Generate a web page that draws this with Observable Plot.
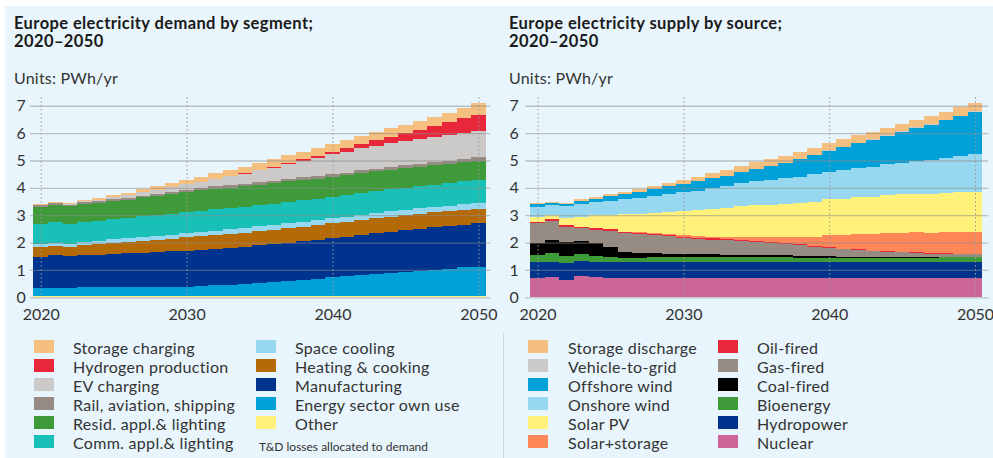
<!DOCTYPE html>
<html><head><meta charset="utf-8">
<script src="https://cdn.jsdelivr.net/npm/d3@7"></script>
<script src="https://cdn.jsdelivr.net/npm/@observablehq/plot@0.6"></script>
<style>
body{margin:0;width:993px;height:458px;overflow:hidden;background:#fff;font-family:Lato,sans-serif;color:#333;position:relative;}
#bg{position:absolute;left:5px;top:6px;width:988px;height:452px;background:#e8f5fc;}
.abs{position:absolute;}
.title{font-weight:700;font-size:16.5px;letter-spacing:0.4px;line-height:18.4px;color:#1a1a1a;white-space:nowrap;}
.units{font-size:16px;letter-spacing:0.2px;line-height:18px;color:#333;white-space:nowrap;}
.lg{position:absolute;font-size:16px;letter-spacing:0.3px;line-height:19px;color:#333;white-space:nowrap;}
.sw{position:absolute;width:20px;height:13px;}
.note{font-size:12px;color:#333;white-space:nowrap;}
#divider{position:absolute;left:503px;top:333px;width:1px;height:125px;background:#cfd6da;}
</style>
</head><body>
<div id="bg"></div>
<div id="root"></div>
<script>
// ---- categories ----
const years = [2020,2021,2022,2023,2024,2025,2026,2027,2028,2029,2030,2031,2032,2033,2034,2035,2036,2037,2038,2039,2040,2041,2042,2043,2044,2045,2046,2047,2048,2049,2050];
const xTicks = [2020, 2030, 2040, 2050];
const yTicks = [0, 1, 2, 3, 4, 5, 6, 7];

// ---- demand by segment (PWh/yr), legend order (top of stack first) ----
const demandSeries = ["Storage charging","Hydrogen production","EV charging","Rail, aviation, shipping","Resid. appl.& lighting","Comm. appl.& lighting","Space cooling","Heating & cooking","Manufacturing","Energy sector own use","Other"];
const demandColors = ["#f5c07f","#e8283a","#cbcac8","#978c83","#3f9a3a","#19c0b8","#97d7ef","#b46a06","#00338e","#00a0d8","#fff17a"];
const storageCharging = [0.03,0.03,0.04,0.04,0.06,0.08,0.09,0.11,0.13,0.14,0.16,0.18,0.20,0.21,0.23,0.25,0.26,0.27,0.28,0.29,0.30,0.31,0.31,0.31,0.31,0.31,0.32,0.33,0.35,0.38,0.41];
const hydrogenProduction = [0,0,0,0,0,0,0,0,0,0,0,0.01,0.01,0.02,0.02,0.03,0.04,0.05,0.06,0.08,0.10,0.13,0.16,0.20,0.24,0.28,0.33,0.39,0.46,0.54,0.62];
const evCharging = [0.01,0.01,0.02,0.03,0.05,0.07,0.09,0.12,0.14,0.17,0.20,0.24,0.28,0.33,0.38,0.44,0.50,0.55,0.60,0.66,0.72,0.76,0.80,0.84,0.87,0.90,0.92,0.93,0.94,0.95,0.95];
const railAviationShipping = [0.07,0.07,0.07,0.07,0.07,0.07,0.07,0.07,0.07,0.07,0.07,0.07,0.08,0.08,0.08,0.08,0.08,0.08,0.09,0.09,0.09,0.09,0.09,0.10,0.10,0.10,0.10,0.11,0.11,0.12,0.12];
const residAppl = [0.63,0.64,0.63,0.64,0.64,0.65,0.67,0.69,0.71,0.73,0.75,0.75,0.75,0.75,0.74,0.74,0.74,0.74,0.74,0.73,0.73,0.73,0.73,0.72,0.72,0.72,0.72,0.71,0.71,0.70,0.70];
const commAppl = [0.73,0.75,0.73,0.74,0.74,0.75,0.75,0.76,0.76,0.77,0.77,0.77,0.78,0.78,0.78,0.78,0.78,0.79,0.79,0.79,0.79,0.79,0.80,0.80,0.80,0.80,0.81,0.82,0.83,0.84,0.86];
const spaceCooling = [0.11,0.11,0.11,0.12,0.12,0.13,0.13,0.14,0.14,0.15,0.15,0.16,0.16,0.16,0.17,0.17,0.17,0.18,0.18,0.18,0.19,0.19,0.19,0.19,0.19,0.19,0.20,0.20,0.20,0.21,0.21];
const heatingCooking = [0.34,0.35,0.35,0.37,0.38,0.40,0.41,0.43,0.45,0.46,0.48,0.49,0.50,0.51,0.51,0.52,0.52,0.53,0.53,0.54,0.54,0.54,0.55,0.55,0.55,0.55,0.54,0.54,0.53,0.53,0.52];
const manufacturing = [1.14,1.18,1.15,1.18,1.20,1.23,1.24,1.26,1.28,1.30,1.32,1.33,1.34,1.35,1.36,1.38,1.39,1.40,1.41,1.42,1.43,1.45,1.47,1.49,1.51,1.53,1.54,1.55,1.56,1.57,1.58];
const energyOwnUse = [0.32,0.32,0.32,0.33,0.33,0.33,0.34,0.34,0.35,0.35,0.36,0.38,0.41,0.43,0.46,0.50,0.53,0.57,0.61,0.65,0.70,0.74,0.78,0.82,0.86,0.90,0.94,0.98,1.02,1.06,1.09];
const otherDemand = [0.03,0.03,0.03,0.03,0.03,0.03,0.03,0.03,0.03,0.03,0.03,0.03,0.03,0.03,0.03,0.03,0.03,0.03,0.03,0.03,0.03,0.03,0.03,0.03,0.03,0.03,0.03,0.03,0.03,0.03,0.03];
const demandValues = [storageCharging,hydrogenProduction,evCharging,railAviationShipping,residAppl,commAppl,spaceCooling,heatingCooking,manufacturing,energyOwnUse,otherDemand];

// ---- supply by source (PWh/yr), legend order (top of stack first) ----
const supplySeries = ["Storage discharge","Vehicle-to-grid","Offshore wind","Onshore wind","Solar PV","Solar+storage","Oil-fired","Gas-fired","Coal-fired","Bioenergy","Hydropower","Nuclear"];
const supplyColors = ["#f5c07f","#cbcac8","#00a0d8","#97d7ef","#fff17a","#ff8657","#e8283a","#978c83","#000000","#3f9a3a","#00338e","#cc6598"];
const storageDischarge = [0.03,0.04,0.05,0.06,0.06,0.07,0.08,0.09,0.11,0.12,0.14,0.16,0.18,0.20,0.22,0.24,0.25,0.26,0.26,0.26,0.26,0.27,0.27,0.27,0.28,0.28,0.28,0.29,0.30,0.30,0.31];
const vehicleToGrid = [0,0,0,0,0,0,0,0,0,0,0,0,0,0,0,0,0,0,0,0,0.01,0.01,0.01,0.01,0.01,0.01,0.01,0.02,0.02,0.02,0.02];
const offshoreWind = [0.11,0.10,0.07,0.12,0.14,0.16,0.18,0.21,0.24,0.28,0.32,0.34,0.36,0.38,0.41,0.45,0.50,0.56,0.63,0.70,0.77,0.84,0.91,0.98,1.05,1.13,1.21,1.29,1.38,1.47,1.56];
const onshoreWind = [0.37,0.36,0.45,0.46,0.47,0.51,0.54,0.58,0.62,0.65,0.68,0.72,0.76,0.80,0.84,0.88,0.91,0.94,0.96,0.99,1.01,1.04,1.07,1.10,1.13,1.16,1.20,1.24,1.28,1.32,1.36];
const solarPV = [0.16,0.15,0.25,0.37,0.48,0.53,0.64,0.69,0.74,0.81,0.89,0.95,1.01,1.06,1.12,1.17,1.19,1.21,1.24,1.28,1.32,1.34,1.36,1.37,1.39,1.40,1.41,1.42,1.43,1.45,1.46];
const solarStorage = [0,0,0,0,0,0,0,0.01,0.02,0.03,0.04,0.05,0.07,0.08,0.10,0.13,0.17,0.22,0.28,0.35,0.43,0.49,0.55,0.60,0.65,0.70,0.73,0.75,0.77,0.79,0.81];
const oilFired = [0.06,0.06,0.06,0.06,0.06,0.06,0.06,0.05,0.05,0.05,0.05,0.04,0.04,0.04,0.04,0.04,0.03,0.03,0.03,0.03,0.03,0.02,0.02,0.02,0.02,0.02,0.02,0.01,0.01,0.01,0.01];
const gasFired = [0.73,0.70,0.55,0.45,0.49,0.58,0.67,0.68,0.66,0.63,0.58,0.56,0.54,0.52,0.50,0.48,0.45,0.42,0.38,0.34,0.30,0.27,0.24,0.21,0.19,0.17,0.15,0.13,0.12,0.11,0.10];
const coalFired = [0.42,0.48,0.52,0.50,0.45,0.38,0.24,0.18,0.16,0.14,0.12,0.11,0.10,0.09,0.09,0.08,0.08,0.07,0.07,0.06,0.06,0.05,0.05,0.04,0.04,0.03,0.03,0.02,0.02,0.01,0.01];
const bioenergy = [0.25,0.31,0.24,0.24,0.22,0.17,0.15,0.15,0.16,0.16,0.17,0.17,0.17,0.17,0.17,0.17,0.16,0.16,0.16,0.15,0.15,0.15,0.15,0.15,0.15,0.15,0.16,0.16,0.17,0.17,0.18];
const hydropower = [0.58,0.57,0.64,0.54,0.55,0.58,0.58,0.60,0.61,0.61,0.61,0.61,0.61,0.61,0.60,0.60,0.60,0.60,0.59,0.59,0.59,0.59,0.59,0.59,0.59,0.59,0.59,0.59,0.59,0.59,0.59];
const nuclear = [0.72,0.73,0.63,0.79,0.75,0.72,0.70,0.70,0.69,0.69,0.69,0.69,0.69,0.69,0.70,0.70,0.70,0.70,0.70,0.70,0.70,0.70,0.70,0.70,0.70,0.70,0.70,0.70,0.70,0.70,0.70];
const supplyValues = [storageDischarge,vehicleToGrid,offshoreWind,onshoreWind,solarPV,solarStorage,oilFired,gasFired,coalFired,bioenergy,hydropower,nuclear];

const root = document.getElementById("root");

function el(tag, cls, css, text) {
  const e = document.createElement(tag);
  if (cls) e.className = cls;
  Object.assign(e.style, css || {});
  if (text != null) e.textContent = text;
  root.appendChild(e);
  return e;
}

function panel(cfg) {
  const {left, width, title, series, colors, values, mLeft, mRight, padY, gridIn, legend} = cfg;
  el("div", "abs title", {left: (left + cfg.textX) + "px", top: "14px"}, title[0]);
  el("div", "abs title", {left: (left + cfg.textX) + "px", top: "32.4px"}, title[1]);
  el("div", "abs units", {left: (left + cfg.textX) + "px", top: "68.5px"}, "Units: PWh/yr");

  const rows = [];
  series.forEach((s, i) => years.forEach((y, j) => rows.push({year: y, series: s, value: values[i][j]})));
  const bottomFirst = series.slice().reverse();

  const svg = Plot.plot({
    width, height: 240,
    marginLeft: mLeft, marginRight: mRight, marginTop: 7, marginBottom: 32.7,
    style: {fontFamily: "Lato, sans-serif", fontSize: "16px", color: "#333", background: "transparent", overflow: "visible"},
    x: {domain: [2019.5, 2050.5], ticks: xTicks, tickFormat: d => String(d), tickSize: 0, tickPadding: 11, label: null},
    y: {domain: [0, 7.32], ticks: yTicks, tickSize: 0, tickPadding: padY, label: null},
    color: {domain: series, range: colors},
    marks: [
      Plot.rectY(rows, Plot.stackY({
        x1: d => d.year - 0.5, x2: d => d.year + 0.5,
        y: "value", fill: "series", order: bottomFirst,
        shapeRendering: "crispEdges"
      })),
      Plot.ruleY(yTicks, {stroke: "#8c8c8c", strokeOpacity: 0.5, strokeWidth: 1.3, insetLeft: gridIn[0], insetRight: gridIn[1]}),
      Plot.ruleX(xTicks, {stroke: "#9a9a9a", strokeWidth: 1, strokeDasharray: "1.5,2.5"})
    ]
  });
  const holder = el("div", "abs", {left: left + "px", top: "90px", width: width + "px", height: "240px"});
  holder.appendChild(svg);

  series.forEach((s, i) => {
    const col = i < 6 ? 0 : 1, row = i % 6;
    const cy = 346.7 + row * 19;
    el("div", "sw", {left: legend.sw[col] + "px", top: (cy - 6.5) + "px", background: colors[i]});
    el("div", "lg", {left: legend.tx[col] + "px", top: (cy - 9.5 + 0.5) + "px"}, s);
  });
}

panel({
  left: 0, width: 497, textX: 14,
  title: ["Europe electricity demand by segment;", "2020–2050"],
  series: demandSeries, colors: demandColors, values: demandValues,
  mLeft: 33.4, mRight: 11.3, padY: 8, gridIn: [-3.5, -4.5],
  legend: {sw: [34, 256], tx: [73, 295]}
});
panel({
  left: 500, width: 493, textX: 9,
  title: ["Europe electricity supply by source;", "2020–2050"],
  series: supplySeries, colors: supplyColors, values: supplyValues,
  mLeft: 30.3, mRight: 10.7, padY: 12, gridIn: [-5, -6],
  legend: {sw: [528, 718], tx: [568, 757]}
});

el("div", "abs note", {left: "259px", top: "439px"}, "T&D losses allocated to demand");
el("div", "", {}, null).id = "divider";
</script>
</body></html>
